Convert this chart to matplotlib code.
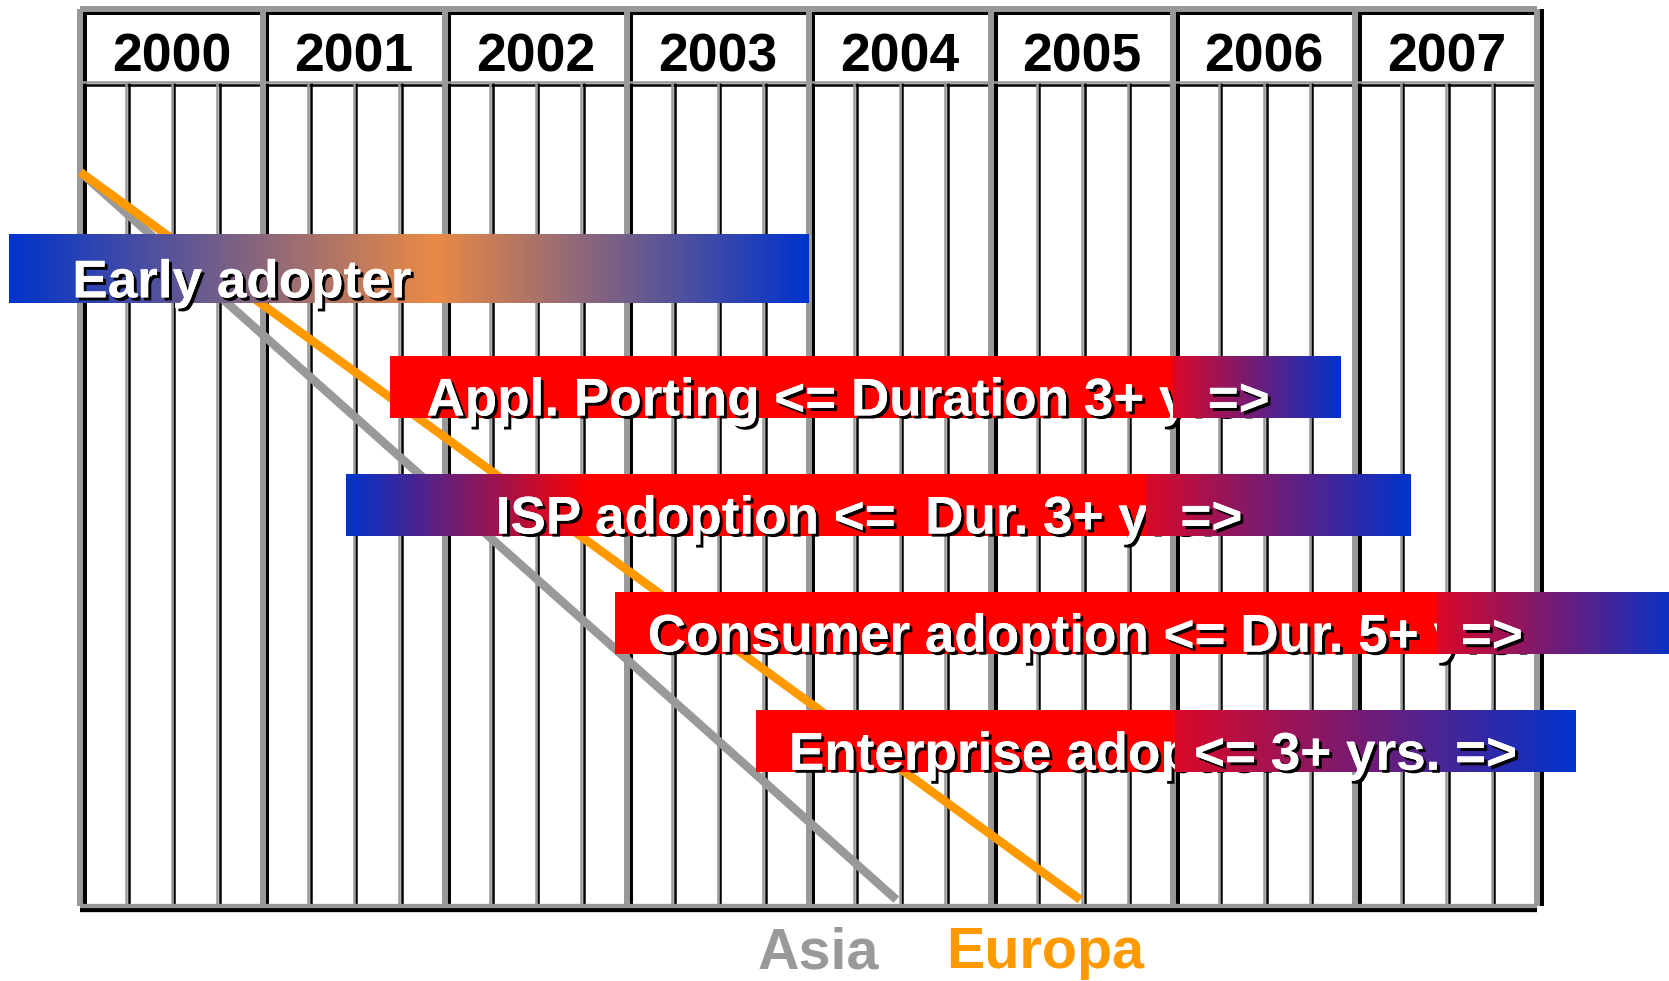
import numpy as np
import matplotlib
matplotlib.use("Agg")
import matplotlib.pyplot as plt
import matplotlib.patheffects as pe
from matplotlib.colors import to_rgb
from matplotlib.transforms import offset_copy

# timeline columns
YEARS = [2000, 2001, 2002, 2003, 2004, 2005, 2006, 2007]
QUARTERS = 4

# phases (one row each, top to bottom)
PHASES = ["Early adopter",
          "Appl. Porting <= Duration 3+ yrs.",
          "ISP adoption <=  Dur. 3+ yrs.",
          "Consumer adoption <= Dur. 5+ yrs.",
          "Enterprise adoption"]
PHASE_TAILS = ["", "=>", "=>", "=>", "<= 3+ yrs. =>"]
PHASE_START = [1999.61, 2001.70, 2001.46, 2002.935, 2003.71]
PHASE_END = [2004.00, 2006.92, 2007.30, 2008.80, 2008.21]
PHASE_FADE = [None, 2006.00, 2005.85, 2007.45, 2006.01]   # where the fade-out overlay starts
PHASE_TEXT_AT = [1999.955, 2001.90, 2002.28, 2003.115, 2003.89]
PHASE_TAIL_AT = [None, 2006.19, 2006.04, 2007.58, 2006.115]

# regional adoption diagonals
REGIONS = ["Asia", "Europa"]
REGION_COLORS = ["#999999", "#FF9900"]
REGION_START = [2000.0, 2000.0]
REGION_END = [2004.48, 2005.49]
REGION_LABEL_AT = [2004.05, 2005.30]

BLUE = "#0033CC"
RED = "#FF0000"
RED2 = "#DA0828"
ORANGE = "#EA8A45"
GREY = "#999999"

# y layout in "row" units (row 1 = first phase), y axis inverted
Y_TOP, Y_HEAD, Y_BOTTOM = -1.2016, -0.583, 6.394
LINE_TOP, LINE_BOTTOM = 0.18, 6.34
YEAR_BASE = -0.6765
REGION_BASE = 6.92

FONT = "Liberation Sans"
BAR_FS = 38.2

fig = plt.figure(figsize=(16.69, 9.81), dpi=100)
ax = fig.add_axes([0, 0, 1, 1])
ax.axis("off")


def gradient_bar(x0, x1, yc, h, stops, z):
    xs = np.linspace(x0, x1, 800)
    sx = [s[0] for s in stops]
    cols = np.array([to_rgb(s[1]) for s in stops])
    img = np.stack([np.interp(xs, sx, cols[:, k]) for k in range(3)], axis=-1)[None]
    ax.imshow(img, extent=(x0, x1, yc + h / 2, yc - h / 2), aspect="auto",
              interpolation="nearest", zorder=z)


def shadow_line(xs, ys, lw, dx, dy, z):
    sh = offset_copy(ax.transData, fig=fig, x=dx, y=dy, units="dots")
    ax.plot(xs, ys, color="black", lw=lw, transform=sh, zorder=z,
            solid_capstyle="butt")
    ax.plot(xs, ys, color=GREY, lw=lw, zorder=z + 0.5, solid_capstyle="butt")


# ---- grid ----
x_left, x_right = YEARS[0], YEARS[-1] + 1
for y in YEARS + [x_right]:
    shadow_line([y, y], [Y_TOP, Y_BOTTOM], 4.3, 3.5, 0, 1)
    if y < x_right:
        for q in range(1, QUARTERS):
            xq = y + q / QUARTERS
            shadow_line([xq, xq], [Y_HEAD, Y_BOTTOM], 1.8, 2.5, 0, 1)
shadow_line([x_left, x_right], [Y_TOP, Y_TOP], 4.3, 0, -2.5, 1)
shadow_line([x_left, x_right], [Y_HEAD, Y_HEAD], 1.8, 0, -2.5, 1)
shadow_line([x_left, x_right], [Y_BOTTOM, Y_BOTTOM], 3.1, 0, -3.5, 1)

for y in YEARS:
    ax.text(y + 0.5, YEAR_BASE, str(y), ha="center", va="baseline",
            fontsize=38.5, fontweight="bold", family=FONT, color="black", zorder=3)

# ---- regional diagonals ----
for name, col, x0, x1, xl in zip(REGIONS, REGION_COLORS, REGION_START,
                                 REGION_END, REGION_LABEL_AT):
    ax.plot([x0, x1], [LINE_TOP, LINE_BOTTOM], color=col, lw=6.2,
            solid_capstyle="butt", zorder=3)
    ax.text(xl, REGION_BASE, name, ha="center", va="baseline", fontsize=41.4,
            fontweight="bold", family=FONT, color=col, zorder=3)

# ---- phase bars ----
shadow = [pe.withSimplePatchShadow(offset=(2.2, -2.2), shadow_rgbFace="black",
                                   alpha=1.0), pe.Normal()]
for i, label in enumerate(PHASES):
    row = i + 1
    x0, x1 = PHASE_START[i], PHASE_END[i]
    h = 0.576 if i == 0 else 0.52
    if i == 0:
        stops = [(x0, BLUE), (2001.95, ORANGE), (x1, BLUE)]
    elif i == 2:
        stops = [(x0, BLUE), (2002.80, RED), (x1, RED)]
    else:
        stops = [(x0, RED), (x1, RED)]
    gradient_bar(x0, x1, row, h, stops, 5)
    ax.text(PHASE_TEXT_AT[i], row + 0.24, label, ha="left", va="baseline",
            fontsize=BAR_FS, fontweight="bold", family=FONT, color="white",
            path_effects=shadow, zorder=6)
    if PHASE_FADE[i] is not None:
        gradient_bar(PHASE_FADE[i], x1, row, h, [(PHASE_FADE[i], RED2), (x1, BLUE)], 7)
        ax.text(PHASE_TAIL_AT[i], row + 0.24, PHASE_TAILS[i], ha="left",
                va="baseline", fontsize=BAR_FS, fontweight="bold", family=FONT,
                color="white", path_effects=shadow, zorder=8)

ax.set_xlim(1999.558, 2008.723)
ax.set_ylim(7.029, -1.278)
fig.savefig("out.png", dpi=100, facecolor="white")
